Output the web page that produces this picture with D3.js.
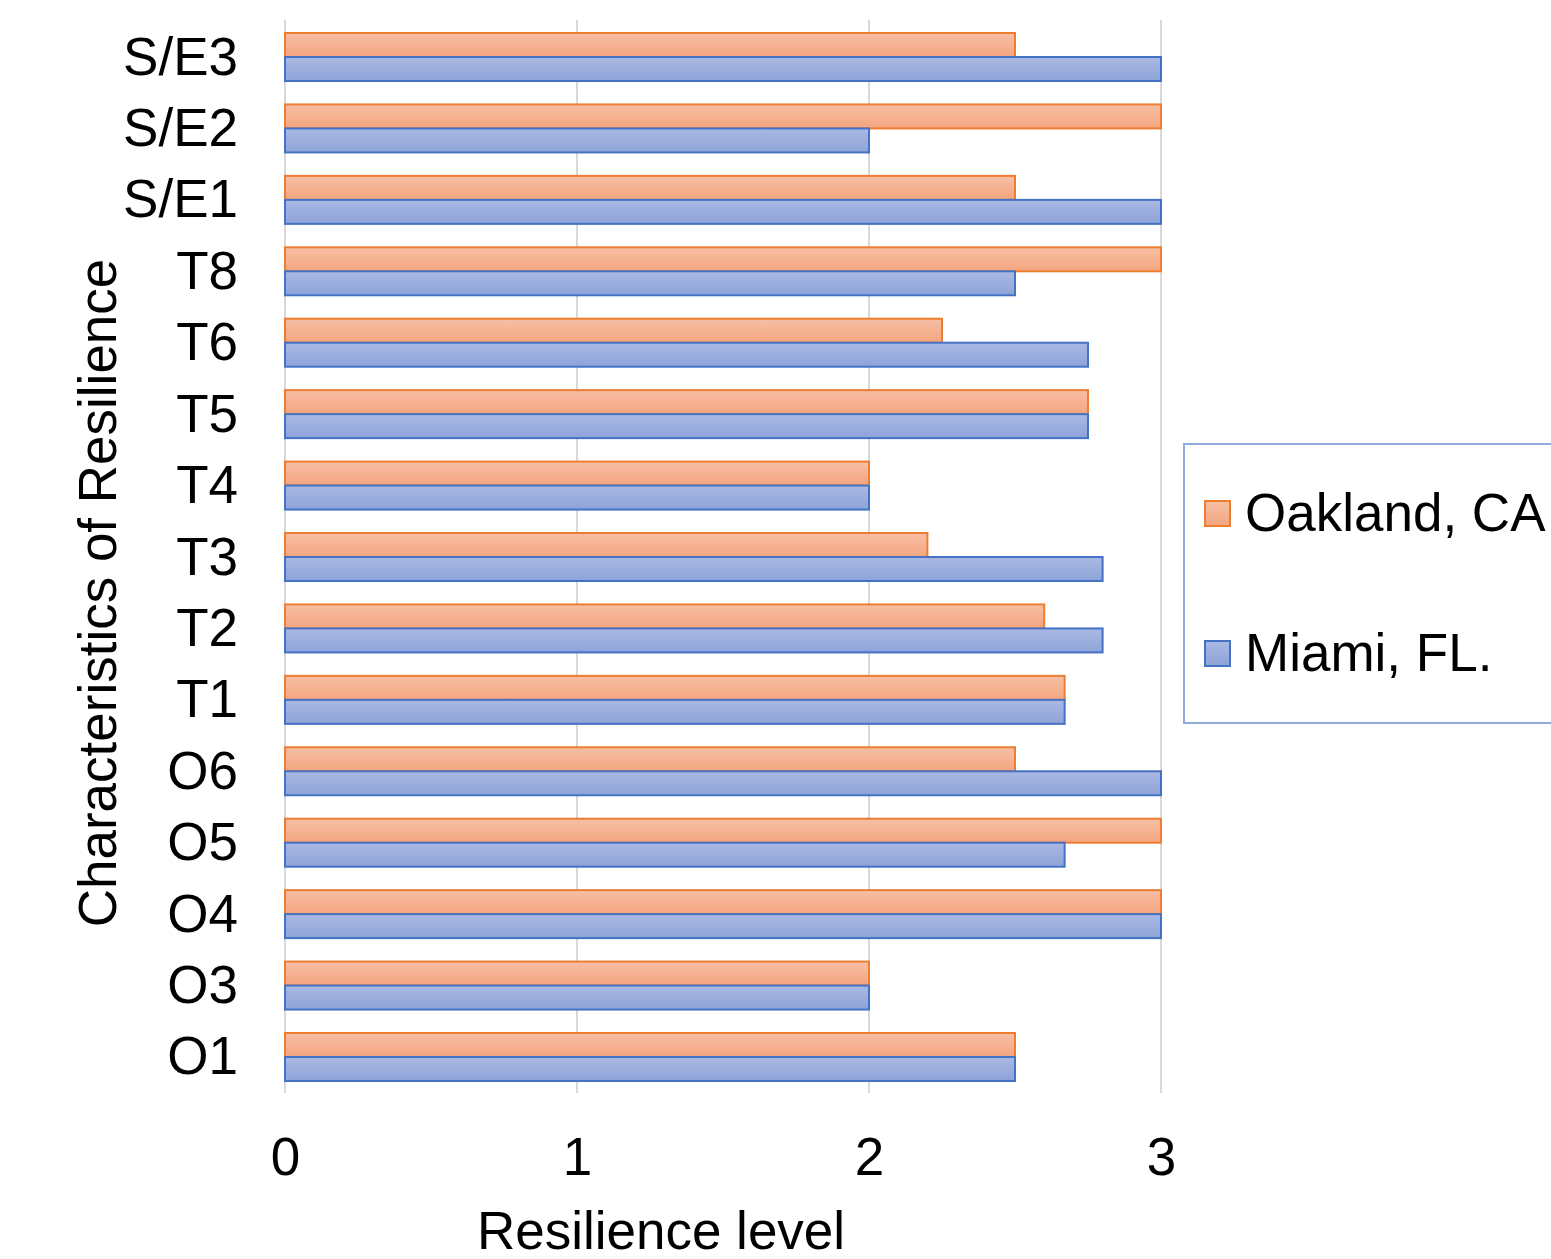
<!DOCTYPE html>
<html><head><meta charset="utf-8">
<script src="https://cdn.jsdelivr.net/npm/d3@7"></script>
<style>body{margin:0;background:#fff;} svg{display:block;font-family:"Liberation Sans",Arial,sans-serif;}</style>
</head><body>
<svg id="c" width="1551" height="1259"></svg>
<script>
const categories = ["S/E3","S/E2","S/E1","T8","T6","T5","T4","T3","T2","T1","O6","O5","O4","O3","O1"];
const oakland = [2.5,3,2.5,3,2.25,2.75,2,2.2,2.6,2.67,2.5,3,3,2,2.5];
const miami   = [3,2,3,2.5,2.75,2.75,2,2.8,2.8,2.67,3,2.67,3,2,2.5];
const seriesNames = ["Oakland, CA","Miami, FL."];
const xTicks = [0,1,2,3];

const FS = 53;
const svg = d3.select("#c");
const defs = svg.append("defs");
function grad(id, c1, c2){
  const g = defs.append("linearGradient").attr("id",id).attr("x1",0).attr("y1",0).attr("x2",0).attr("y2",1);
  g.append("stop").attr("offset","0%").attr("stop-color",c1);
  g.append("stop").attr("offset","100%").attr("stop-color",c2);
}
grad("gO","#f7bfa5","#f3a57f");
grad("gM","#aab9e3","#8da3d8");
const fills = ["url(#gO)","url(#gM)"];
const strokes = ["#ed7d31","#4472c4"];

const x = d3.scaleLinear().domain([0,3]).range([285,1161]);
const y = d3.scaleBand().domain(categories).range([21.3,1092.7]).paddingInner(0.328).paddingOuter(0.164);
const sub = d3.scaleBand().domain([0,1]).range([0,y.bandwidth()]);

// gridlines
svg.append("g").selectAll("line").data(xTicks).join("line")
  .attr("x1",d=>x(d)).attr("x2",d=>x(d)).attr("y1",20).attr("y2",1093)
  .attr("stroke","#d9d9d9").attr("stroke-width",2);

const rows = categories.map((c,i)=>({c, vals:[oakland[i],miami[i]]}));
const g = svg.append("g");
rows.forEach(r=>{
  r.vals.forEach((v,k)=>{
    g.append("rect").attr("x",x(0)).attr("y",y(r.c)+sub(k))
      .attr("width",x(v)-x(0)).attr("height",sub.bandwidth())
      .attr("fill",fills[k]).attr("stroke",strokes[k]).attr("stroke-width",2);
  });
});

// x axis labels
const xa = svg.append("g").attr("transform","translate(0,1175)")
  .call(d3.axisBottom(x).tickValues(xTicks).tickSize(0).tickFormat(d3.format("d")));
xa.select(".domain").remove();
xa.selectAll("text").attr("font-size",FS).attr("fill","#000").attr("font-family","Liberation Sans, Arial, sans-serif")
  .attr("y",0).attr("dy",0);

// y axis labels
const ya = svg.append("g").attr("transform","translate(238,0)")
  .call(d3.axisLeft(y).tickSize(0).tickPadding(0));
ya.select(".domain").remove();
ya.selectAll("text").attr("font-size",FS).attr("fill","#000").attr("font-family","Liberation Sans, Arial, sans-serif").attr("x",0).attr("dy","0.33em");

// axis titles
svg.append("text").attr("x",661).attr("y",1249).attr("text-anchor","middle")
  .attr("font-size",FS).attr("fill","#000").text("Resilience level");
svg.append("text").attr("transform","translate(116,593) rotate(-90)").attr("text-anchor","middle")
  .attr("font-size",FS).attr("fill","#000").text("Characteristics of Resilience");

// legend
const lg = svg.append("g");
lg.append("rect").attr("x",1184).attr("y",444).attr("width",380).attr("height",279)
  .attr("fill","#fff").attr("stroke","#8faadc").attr("stroke-width",2);
const ly = [514,654];
seriesNames.forEach((n,k)=>{
  lg.append("rect").attr("x",1205).attr("y",ly[k]-13).attr("width",25).attr("height",25)
    .attr("fill",fills[k]).attr("stroke",strokes[k]).attr("stroke-width",2);
  lg.append("text").attr("x",1245).attr("y",ly[k]).attr("dy","0.33em")
    .attr("font-size",FS).attr("fill","#000").text(n);
});
</script>
</body></html>
